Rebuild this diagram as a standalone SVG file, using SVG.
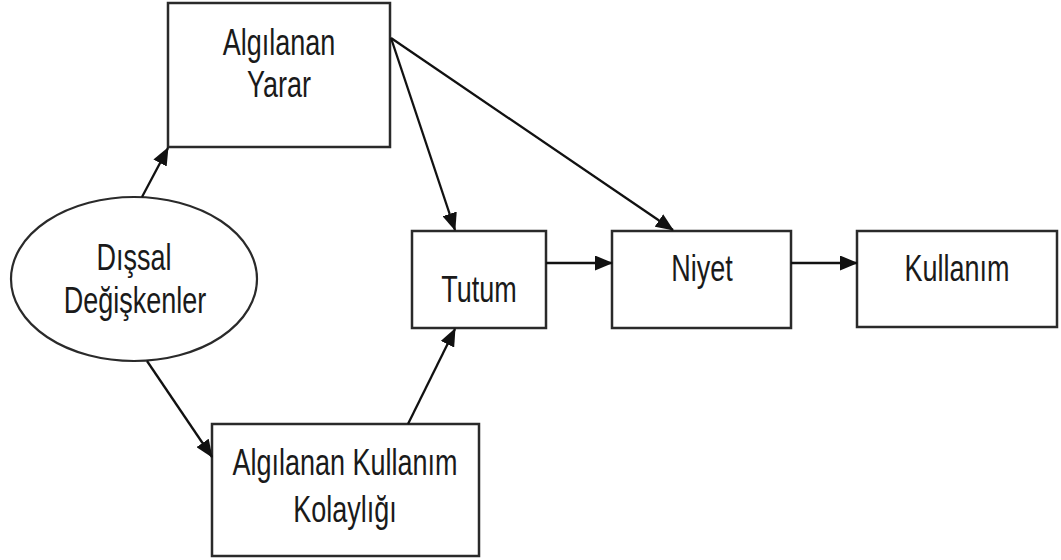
<svg xmlns="http://www.w3.org/2000/svg" width="1061" height="560" viewBox="0 0 1061 560">
<style>
.box{fill:#fff;stroke:#2a2a2a;stroke-width:2.5}
.t{font-family:"Liberation Sans",Arial,sans-serif;font-size:27px;fill:#1a1a1a;text-anchor:middle}
.c{stroke:#111;stroke-width:2.3;fill:none}
</style>
<defs>
<marker id="ah" markerUnits="userSpaceOnUse" markerWidth="18" markerHeight="15" refX="17" refY="7.5" orient="auto">
<path d="M0,0 L18,7.5 L0,15 Z" fill="#111"/>
</marker>
</defs>
<rect width="1061" height="560" fill="#fff"/>
<g id="yarar">
<rect class="box" x="168" y="3" width="222" height="144"/>
<text class="t" transform="translate(279,55) scale(1,1.38)">Algılanan</text>
<text class="t" transform="translate(279,97) scale(1,1.38)">Yarar</text>
</g>
<g id="dissal">
<ellipse cx="134" cy="279" rx="123" ry="82" fill="#fff" stroke="#2a2a2a" stroke-width="2.2"/>
<text class="t" transform="translate(134,270) scale(1,1.38)">Dışsal</text>
<text class="t" transform="translate(135,313) scale(1,1.38)">Değişkenler</text>
</g>
<g id="kolaylik">
<rect class="box" x="212" y="424" width="267" height="132"/>
<text class="t" transform="translate(345,475) scale(1,1.38)">Algılanan Kullanım</text>
<text class="t" transform="translate(345,522) scale(1,1.38)">Kolaylığı</text>
</g>
<g id="tutum">
<rect class="box" x="412" y="231" width="134" height="97"/>
<text class="t" transform="translate(479,302) scale(1,1.38)">Tutum</text>
</g>
<g id="niyet">
<rect class="box" x="612" y="231" width="179" height="97"/>
<text class="t" transform="translate(702,281) scale(1,1.38)">Niyet</text>
</g>
<g id="kullanim">
<rect class="box" x="857" y="231" width="200" height="96"/>
<text class="t" transform="translate(957,281) scale(1,1.38)">Kullanım</text>
</g>
<g id="connectors">
<line class="c" x1="142" y1="197" x2="168" y2="148" marker-end="url(#ah)"/>
<line class="c" x1="147" y1="361" x2="212" y2="457" marker-end="url(#ah)"/>
<line class="c" x1="391" y1="38" x2="455" y2="230" stroke-width="2" marker-end="url(#ah)"/>
<line class="c" x1="391" y1="38" x2="673" y2="230" stroke-width="2.8" marker-end="url(#ah)"/>
<line class="c" x1="408" y1="424" x2="455" y2="329" marker-end="url(#ah)"/>
<line class="c" x1="546" y1="263" x2="612" y2="263" stroke-width="2.8" marker-end="url(#ah)"/>
<line class="c" x1="791" y1="263" x2="857" y2="263" stroke-width="2.8" marker-end="url(#ah)"/>
</g>
</svg>
